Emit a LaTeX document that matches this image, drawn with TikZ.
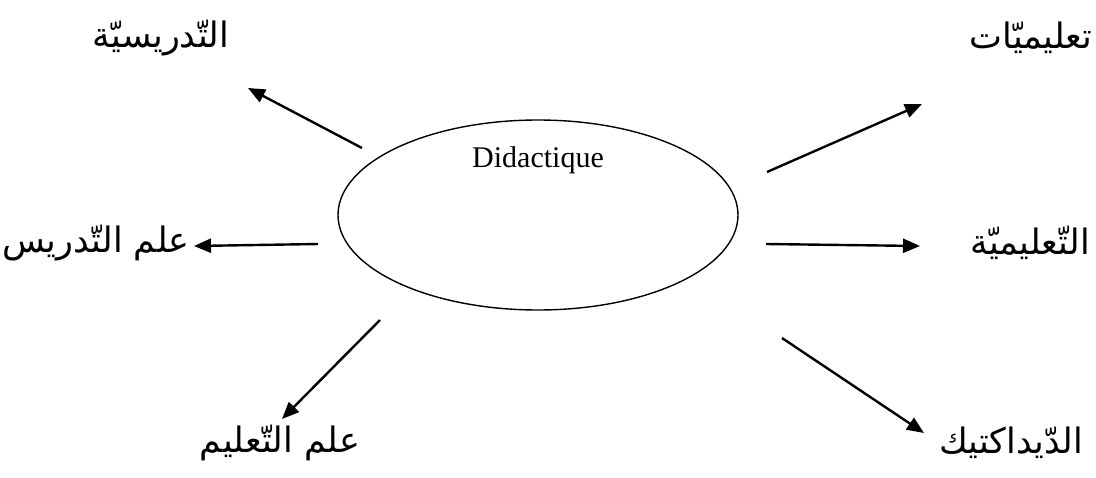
\documentclass[tikz,border=0pt]{standalone}
\usepackage{fontspec}
\setmainfont{Liberation Serif}
\newfontfamily\arabicfont[Script=Arabic]{DejaVu Sans}
\TeXXeTstate=1
\usetikzlibrary{arrows.meta,shapes.geometric}
\begin{document}
\begin{tikzpicture}[x=1pt,y=-1pt,
  arr/.style={line width=2.4pt,-{Triangle[length=17pt,width=14pt]}},
  lab/.style={font=\arabicfont\fontsize{35}{40}\selectfont,inner sep=0pt}]
\useasboundingbox (0,0) rectangle (1096,477);
\node[draw,line width=1.4pt,ellipse,minimum width=400pt,minimum height=190pt] (ell) at (538,215) {};
\node[font=\fontsize{30}{34}\selectfont] (did) at (538,160) {Didactique};
\node[lab] (tl) at (161,38) {\beginR التّدريسيّة\endR};
\node[lab] (tr) at (1031,38) {\beginR تعليميّات\endR};
\node[lab] (ml) at (96,243) {\beginR علم التّدريس\endR};
\node[lab] (mr) at (1030,243) {\beginR التّعليميّة\endR};
\node[lab] (bl) at (280,443) {\beginR علم التّعليم\endR};
\node[lab] (br) at (1011,443) {\beginR الدّيداكتيك\endR};
\coordinate (s1) at (362,148); \coordinate (e1) at (248,88);
\coordinate (s2) at (767,172); \coordinate (e2) at (922,104);
\coordinate (s3) at (318,244); \coordinate (e3) at (194,246);
\coordinate (s4) at (766,244); \coordinate (e4) at (920,246);
\coordinate (s5) at (380,320); \coordinate (e5) at (282,419);
\coordinate (s6) at (782,338); \coordinate (e6) at (924,433);
\draw[arr] (s1) -- (e1);
\draw[arr] (s2) -- (e2);
\draw[arr] (s3) -- (e3);
\draw[arr] (s4) -- (e4);
\draw[arr] (s5) -- (e5);
\draw[arr] (s6) -- (e6);
\end{tikzpicture}
\end{document}
